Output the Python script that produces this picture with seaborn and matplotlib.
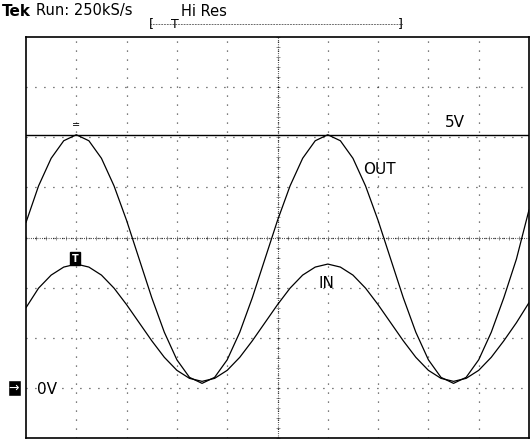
"""Scope capture: OUT vs IN sine traces."""
import numpy as np
import pandas as pd
import seaborn as sns
import matplotlib
matplotlib.use("Agg")
import matplotlib.pyplot as plt

sns.set_theme(style="white")
plt.rcParams['font.family'] = ['DejaVu Sans']
plt.rcParams['text.color'] = 'black'

# time axis in divisions (0.25 div steps)
t_div = [i * 0.25 for i in range(41)]

out_div = [0.30, 1.03, 1.58, 1.93, 2.05, 1.93, 1.58, 1.03, 0.34, -0.43,
           -1.20, -1.89, -2.44, -2.79, -2.91, -2.79, -2.44, -1.89, -1.20, -0.43,
           0.34, 1.03, 1.58, 1.93, 2.05, 1.93, 1.58, 1.03, 0.34, -0.43,
           -1.20, -1.89, -2.44, -2.79, -2.91, -2.79, -2.44, -1.89, -1.20, -0.43,
           0.55]
in_div = [-1.40, -1.01, -0.75, -0.59, -0.53, -0.59, -0.75, -1.01, -1.34, -1.70,
          -2.06, -2.39, -2.65, -2.81, -2.87, -2.81, -2.65, -2.39, -2.06, -1.70,
          -1.34, -1.01, -0.75, -0.59, -0.53, -0.59, -0.75, -1.01, -1.34, -1.70,
          -2.06, -2.39, -2.65, -2.81, -2.87, -2.81, -2.65, -2.39, -2.06, -1.70,
          -1.30]
level_5v = 2.05

df = pd.DataFrame({"t": t_div * 2, "v": out_div + in_div,
                   "ch": ["OUT"] * 41 + ["IN"] * 41})

fig = plt.figure(figsize=(5.31, 4.42), dpi=100)
ax = fig.add_axes([26 / 531, 4 / 442, 503 / 531, 401 / 442])

# graticule
for k in range(1, 10):
    ax.axvline(k, color="black", lw=0.9, ls=(0, (0.7, 6.5)))
for k in range(-3, 4):
    ax.axhline(k, color="black", lw=0.9, ls=(0, (0.7, 6.5)))
ax.axvline(5, color="black", lw=0.8, ls=(0, (0.6, 1.4)))
ax.axhline(0, color="black", lw=0.8, ls=(0, (0.6, 1.4)))
minor_x = np.arange(0, 10.01, 0.2)
minor_y = np.arange(-4, 4.01, 0.2)
ax.scatter(minor_x, np.zeros_like(minor_x), marker="|", s=12, c="gray", lw=0.6)
ax.scatter(np.full_like(minor_y, 5), minor_y, marker="_", s=12, c="gray", lw=0.6)

ax.axhline(level_5v, color="black", lw=1.0)
sns.lineplot(data=df, x="t", y="v", units="ch", estimator=None,
             color="black", lw=0.9, ax=ax, legend=False)

ax.set_xlim(0, 10)
ax.set_ylim(-4, 4)
ax.set_xticks([])
ax.set_yticks([])
ax.set_xlabel("")
ax.set_ylabel("")
for s in ax.spines.values():
    s.set_color("black")
    s.set_linewidth(1.2)

ax.text(8.33, 2.3, "5V", fontsize=11, ha="left", va="center")
ax.text(6.7, 1.35, "OUT", fontsize=11, ha="left", va="center")
ax.text(5.82, -0.92, "IN", fontsize=11, ha="left", va="center")
ax.text(1.0, 2.25, "=", fontsize=7, ha="center", va="center")
ax.text(0.98, -0.42, "T", fontsize=7, ha="center", va="center", color="white",
        fontweight="bold", bbox=dict(boxstyle="square,pad=0.15", fc="black", ec="black"))

fig.text(37 / 531, 1 - 390 / 442, "0V", fontsize=11, ha="left", va="center")
fig.text(14 / 531, 1 - 388 / 442, "→", fontsize=9, ha="center", va="center",
         color="white", bbox=dict(boxstyle="square,pad=0.1", fc="black"))
fig.text(2 / 531, 1 - 11 / 442, "Tek", fontsize=11, fontweight="bold", va="center")
fig.text(36 / 531, 1 - 11 / 442, "Run: 250kS/s", fontsize=10.5, va="center")
fig.text(181 / 531, 1 - 11 / 442, "Hi Res", fontsize=10.5, va="center")
fig.add_artist(plt.Line2D([151 / 531, 402 / 531], [1 - 24 / 442] * 2,
                          color="black", lw=0.7, ls=(0, (0.6, 1.0))))
fig.text(149 / 531, 1 - 24 / 442, "[", fontsize=9, va="center")
fig.text(398 / 531, 1 - 24 / 442, "]", fontsize=9, va="center")
fig.text(175 / 531, 1 - 24 / 442, "T", fontsize=9, va="center", ha="center")

fig.savefig("out.png", dpi=100)
